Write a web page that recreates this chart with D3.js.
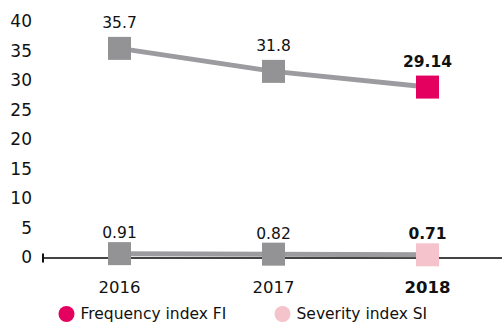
<!DOCTYPE html>
<html>
<head>
<meta charset="utf-8">
<script src="https://cdn.jsdelivr.net/npm/d3@7"></script>
<style>
  html, body { margin: 0; padding: 0; background: #fff; }
  svg { display: block; font-family: "DejaVu Sans", sans-serif; }
</style>
</head>
<body>
<svg id="chart" width="502" height="323"></svg>
<script>
// Injury indices by year
const years = ["2016", "2017", "2018"];
const frequencyIndex = [35.7, 31.8, 29.14];
const severityIndex = [0.91, 0.82, 0.71];
const yTicks = [0, 5, 10, 15, 20, 25, 30, 35, 40];
const labelsFI = ["35.7", "31.8", "29.14"];
const labelsSI = ["0.91", "0.82", "0.71"];
const legendItems = ["Frequency index FI", "Severity index SI"];

const grey = "#9c9ca0";
const markerGrey = "#939396";
const pink = "#e4005e";
const lightPink = "#f5c3cc";
const ink = "#111";

const svg = d3.select("#chart");

const x = d3.scalePoint().domain(years).range([119.5, 427.5]);
const y = d3.scaleLinear().domain([0, 40]).range([259, 23]);

// y tick labels (no grid, no axis line)
svg.append("g").selectAll("text").data(yTicks).join("text")
  .attr("x", 32).attr("y", d => y(d) - 1)
  .attr("text-anchor", "end").attr("dominant-baseline", "middle")
  .attr("font-size", 17).attr("fill", ink)
  .text(d => d);

// x axis baseline with end cap
const axisY = y(0) - 1;
svg.append("line").attr("x1", 43).attr("x2", 502).attr("y1", axisY).attr("y2", axisY)
  .attr("stroke", "#444").attr("stroke-width", 2);
svg.append("line").attr("x1", 43).attr("x2", 43).attr("y1", axisY - 4.5).attr("y2", axisY + 4.5)
  .attr("stroke", ink).attr("stroke-width", 2);

const line = d3.line().x((d, i) => x(years[i])).y(d => y(d));

function drawSeries(values, labels, highlight, labelOffset) {
  const g = svg.append("g");
  g.append("path").datum(values).attr("d", line)
    .attr("fill", "none").attr("stroke", grey).attr("stroke-width", 5);
  const s = 23;
  g.selectAll("rect").data(values).join("rect")
    .attr("x", (d, i) => x(years[i]) - s / 2)
    .attr("y", d => y(d) - s / 2)
    .attr("width", s).attr("height", s)
    .attr("fill", (d, i) => i === values.length - 1 ? highlight : markerGrey);
  g.selectAll("text").data(values).join("text")
    .attr("x", (d, i) => x(years[i]))
    .attr("y", d => y(d) - labelOffset)
    .attr("text-anchor", "middle")
    .attr("font-size", 15.5)
    .attr("font-weight", (d, i) => i === values.length - 1 ? "bold" : "normal")
    .attr("fill", ink)
    .text((d, i) => labels[i]);
}

drawSeries(severityIndex, labelsSI, lightPink, 15.5);
drawSeries(frequencyIndex, labelsFI, pink, 20);

// year labels
svg.append("g").selectAll("text").data(years).join("text")
  .attr("x", d => x(d)).attr("y", 293)
  .attr("text-anchor", "middle").attr("font-size", 16.5)
  .attr("font-weight", (d, i) => i === years.length - 1 ? "bold" : "normal")
  .attr("fill", ink)
  .text(d => d);

// legend
const legend = svg.append("g");
const legendX = [66.5, 282.5];
const legendColors = [pink, lightPink];
legendItems.forEach((name, i) => {
  legend.append("circle").attr("cx", legendX[i]).attr("cy", 314).attr("r", 8)
    .attr("fill", legendColors[i]);
  legend.append("text").attr("x", legendX[i] + 14).attr("y", 314)
    .attr("dominant-baseline", "middle").attr("font-size", 15.5).attr("fill", ink)
    .text(name);
});
</script>
</body>
</html>
